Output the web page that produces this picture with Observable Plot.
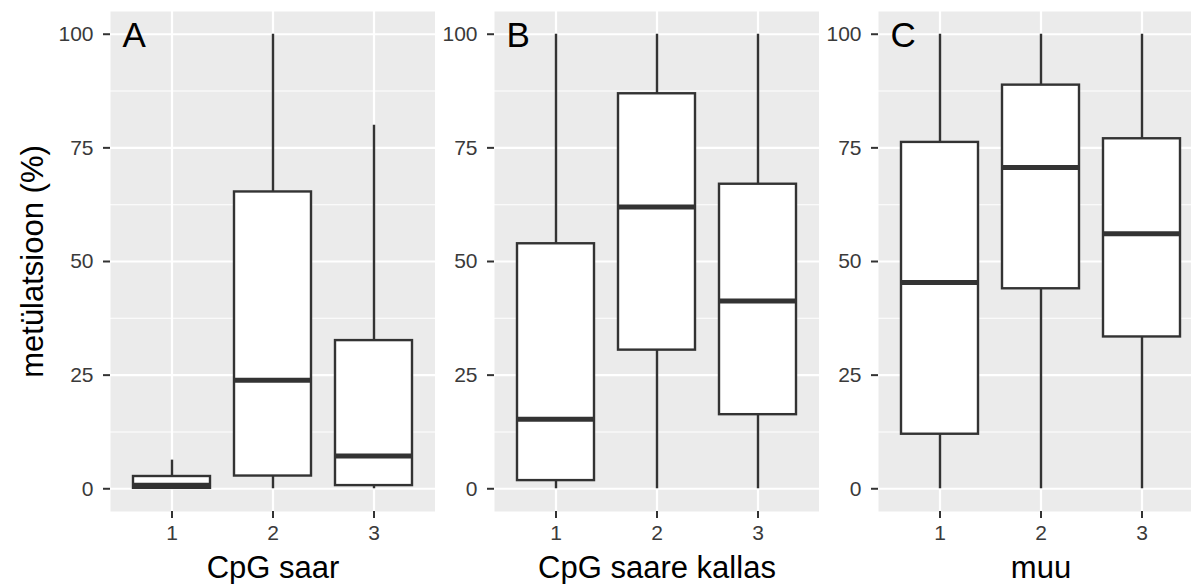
<!DOCTYPE html>
<html>
<head>
<meta charset="utf-8">
<script src="https://cdn.jsdelivr.net/npm/d3@7"></script>
<script src="https://cdn.jsdelivr.net/npm/@observablehq/plot@0.6"></script>
<style>
  html, body { margin: 0; padding: 0; background: white; overflow: hidden; }
  #row { display: flex; flex-wrap: nowrap; width: 1191px; overflow: hidden; }
  #row svg { display: block; flex-shrink: 0; }
</style>
</head>
<body>
<div id="row"></div>
<script>
// ---- data ----
const groups = ["1", "2", "3"];
const panelTitles = ["CpG saar", "CpG saare kallas", "muu"];
const panelTags = ["A", "B", "C"];
const yTitle = "metülatsioon (%)";
const yTicks = [0, 25, 50, 75, 100];
const minorTicks = [12.5, 37.5, 62.5, 87.5];

const whiskerLow    = [[0, 0, 0],      [0, 0, 0],        [0, 0, 0]];
const lowerQuartile = [[0.1, 2.8, 0.7], [1.8, 30.5, 16.3], [12.0, 44.0, 33.4]];
const medians       = [[0.8, 23.9, 7.2], [15.3, 62.0, 41.3], [45.4, 70.7, 56.1]];
const upperQuartile = [[2.7, 65.3, 32.6], [53.9, 86.9, 67.0], [76.2, 88.8, 77.0]];
const whiskerHigh   = [[6.3, 100, 80.0], [100, 100, 100],  [100, 100, 100]];

const font = "'Liberation Sans', Arial, Helvetica, sans-serif";
const ink = "#333333";

function makePanel(i) {
  const rows = groups.map((g, j) => ({
    group: g,
    lo: whiskerLow[i][j],
    q1: lowerQuartile[i][j],
    med: medians[i][j],
    q3: upperQuartile[i][j],
    hi: whiskerHigh[i][j]
  }));
  const first = i === 0;
  return Plot.plot({
    width: first ? 435 : 384,
    height: 584,
    marginLeft: first ? 110 : 59,
    marginRight: 0,
    marginTop: 11,
    marginBottom: 73,
    style: { fontFamily: font, background: "white" },
    x: { domain: groups, paddingInner: 0.24, paddingOuter: 0.22, axis: null, label: null },
    y: { domain: [-5, 105], axis: null, label: null },
    marks: [
      Plot.frame({ fill: "#EBEBEB", stroke: null }),
      Plot.gridY(minorTicks, { stroke: "white", strokeOpacity: 1, strokeWidth: 1.1 }),
      Plot.gridY(yTicks, { stroke: "white", strokeOpacity: 1, strokeWidth: 2.2 }),
      Plot.gridX(groups, { stroke: "white", strokeOpacity: 1, strokeWidth: 2.2 }),
      Plot.axisY(yTicks, { tickSize: 7, tickPadding: 10, stroke: ink, strokeWidth: 2, fill: "#3a3a3a", fontSize: 21, label: null }),
      Plot.axisX(groups, { tickSize: 7, tickPadding: 7, stroke: ink, strokeWidth: 2, fill: "#3a3a3a", fontSize: 21, label: null }),
      Plot.ruleX(rows, { x: "group", y1: "lo", y2: "hi", stroke: ink, strokeWidth: 2.4 }),
      Plot.barY(rows, { x: "group", y1: "q1", y2: "q3", fill: "white", stroke: ink, strokeWidth: 2.4 }),
      Plot.tickY(rows, { x: "group", y: "med", stroke: ink, strokeWidth: 5 }),
      Plot.text([panelTags[i]], { text: d => d, frameAnchor: "top-left", dx: 12, dy: 35, lineAnchor: "bottom", textAnchor: "start", fontSize: 35, fill: "black" }),
      Plot.text([panelTitles[i]], { text: d => d, frameAnchor: "bottom", dy: 66, lineAnchor: "bottom", textAnchor: "middle", fontSize: 31, fill: "black" }),
      first ? Plot.text([yTitle], { text: d => d, frameAnchor: "left", dx: -68, rotate: -90, lineAnchor: "bottom", textAnchor: "middle", fontSize: 31, fill: "black" }) : null
    ]
  });
}

const row = document.getElementById("row");
[0, 1, 2].forEach(i => row.appendChild(makePanel(i)));
</script>
</body>
</html>
